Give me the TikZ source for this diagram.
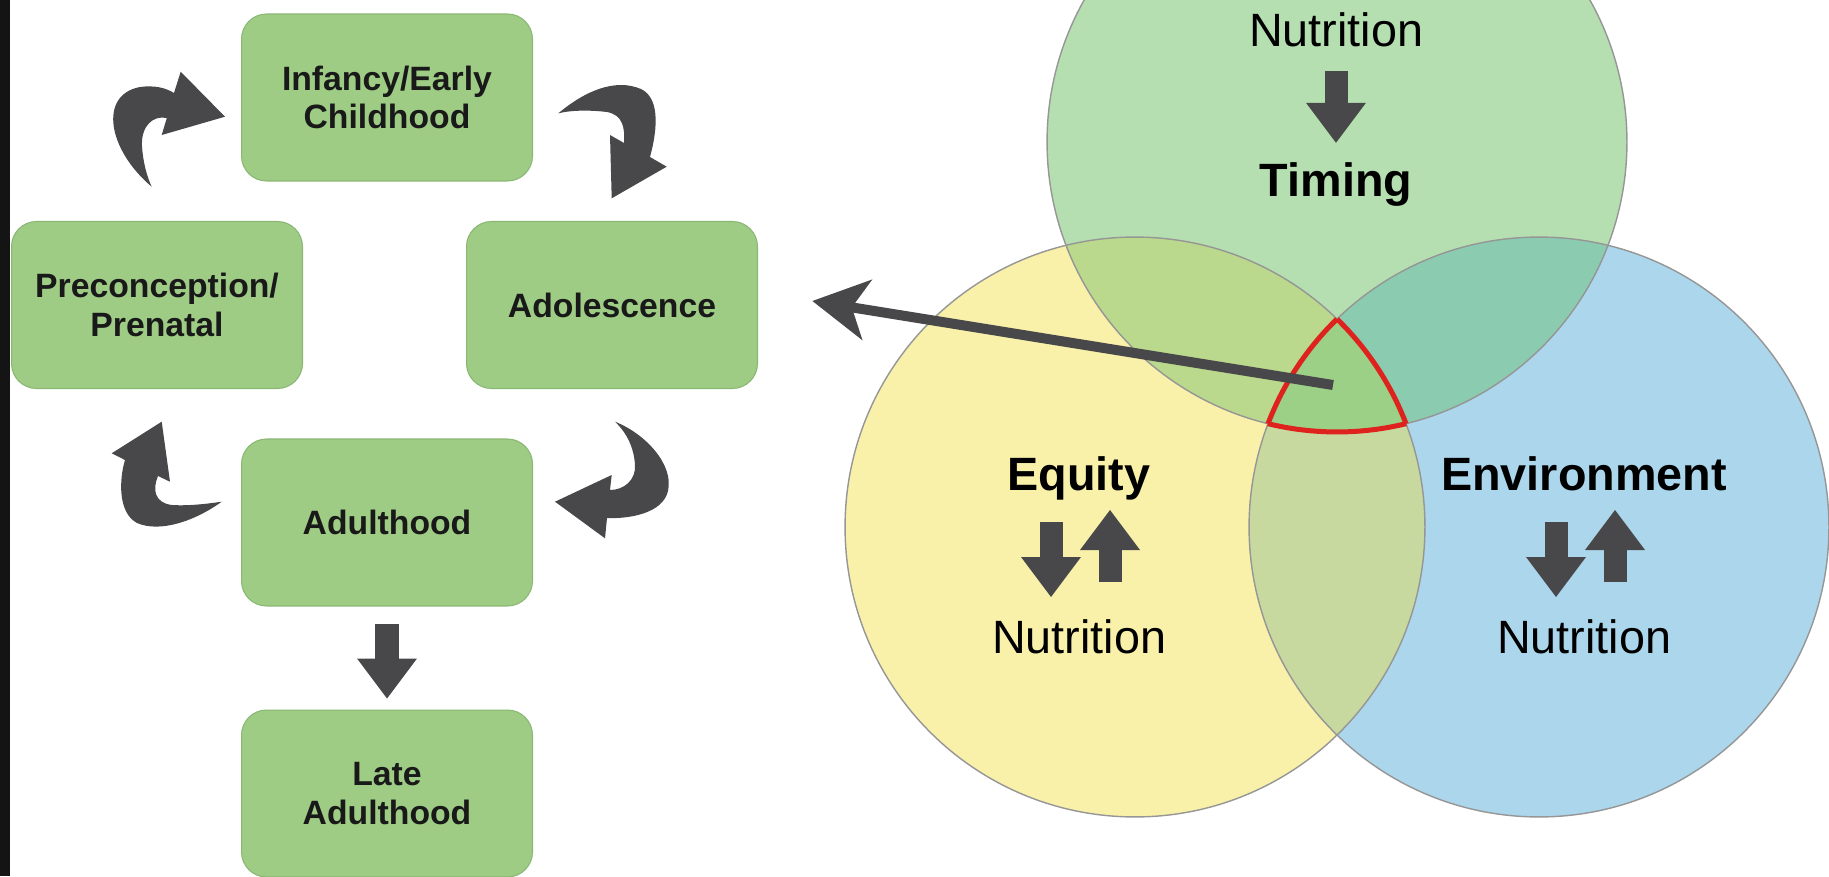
\documentclass[tikz,border=0pt]{standalone}
\usepackage{fontspec}
\setmainfont{Liberation Sans}
\usepackage{xcolor}
\usepackage{tikz}
\usetikzlibrary{arrows.meta, positioning, calc}
\definecolor{stage-green}{RGB}{158, 204, 133}
\definecolor{stage-edge}{RGB}{138, 184, 116}
\definecolor{arrow-gray}{RGB}{72, 72, 74}
\definecolor{venn-green}{RGB}{181, 223, 176}
\definecolor{venn-yellow}{RGB}{249, 241, 170}
\definecolor{venn-blue}{RGB}{171, 214, 236}
\definecolor{venn-gy}{RGB}{186, 217, 140}
\definecolor{venn-gb}{RGB}{139, 203, 175}
\definecolor{venn-yb}{RGB}{199, 217, 158}
\definecolor{venn-core}{RGB}{156, 208, 135}
\definecolor{venn-line}{RGB}{150, 150, 150}
\definecolor{core-red}{RGB}{222, 34, 30}
\newcommand{\vennr}{5.8cm}

\begin{document}
\begin{tikzpicture}[
    x=0.02cm, y=-0.02cm,
    stage/.style={rectangle, rounded corners=0.5cm,
                  fill=stage-green, draw=stage-edge, line width=0.6pt,
                  minimum width=5.82cm, minimum height=3.34cm, align=center,
                  font=\fontsize{19.2}{22}\selectfont\bfseries, text=black!90},
    blk/.style={line width=0.46cm, color=arrow-gray,
                -{Triangle[width=1.2cm, length=0.8cm, line width=0pt]}},
    ptr/.style={line width=0.2cm, color=arrow-gray,
                -{Stealth[length=1.1cm, width=1.2cm, inset=0.3cm]}},
    vlab/.style={anchor=base, inner sep=0pt, font=\fontsize{26.6}{30}\selectfont},
    vhead/.style={vlab, font=\fontsize{26.6}{30}\selectfont\bfseries},
    circ/.style={draw=venn-line, line width=0.8pt},
    redline/.style={draw=core-red, line width=0.1cm}
  ]
    \useasboundingbox (0,0) rectangle (1829,876);
    \fill[white] (0,0) rectangle (1829,876);
    \fill[black!92] (0,0) rectangle (10,876);

    % life course stages
    \node[stage] (infancy) at (387,97.5) {Infancy/Early\\Childhood};
    \node[stage] (precon)  at (157,305)  {Preconception/\\Prenatal};
    \node[stage] (adol)    at (612,305)  {Adolescence};
    \node[stage] (adult)   at (387,522.5) {Adulthood};
    \node[stage, below=2.06cm of adult] (late) {Late\\Adulthood};

    \draw[blk, line width=0.48cm, shorten <=0.34cm, shorten >=0.22cm] (adult) -- (late);

    % curved cycle arrows
    \fill[arrow-gray] (151.7,186.7) .. controls (108,150) and (98,95) .. (140,87)
        .. controls (155,85) and (166,88) .. (174,93) -- (180.7,71.7) -- (225,116.7)
        -- (161.7,135) -- (166.8,118)
        .. controls (153,115) and (141,126) .. (142,146)
        .. controls (143,162) and (147,177) .. (151.7,186.7) -- cycle;
    \fill[arrow-gray] (558.3,113.3) .. controls (585,91) and (615,78) .. (641,89)
        .. controls (662,99) and (656,135) .. (650,157) -- (666.7,166.7) -- (611.7,198.3)
        -- (610,135) -- (624,143)
        .. controls (625,128) and (623,115) .. (607,112)
        .. controls (590,110) and (572,110) .. (558.3,113.3) -- cycle;
    \fill[arrow-gray] (615,421.7) .. controls (646,434) and (674,465) .. (668,491)
        .. controls (663,513) and (630,519) .. (607,518) -- (605,538.3) -- (555,501.7)
        -- (611.7,475) -- (610,490)
        .. controls (624,490) and (636,480) .. (635,465)
        .. controls (634,448) and (627,433) .. (615,421.7) -- cycle;
    \fill[arrow-gray] (221.7,501.7) .. controls (195,521) and (160,533) .. (137,523)
        .. controls (118,513) and (119,480) .. (125,460) -- (111.7,453.3) -- (161.7,421.7)
        -- (170,481.7) -- (158,476)
        .. controls (152,490) and (155,503) .. (172,505)
        .. controls (188,506) and (206,504) .. (221.7,501.7) -- cycle;

    % venn diagram
    \coordinate (cg) at (1337,142);
    \coordinate (cy) at (1135,527);
    \coordinate (cb) at (1539,527);
    \fill[venn-green]  (cg) circle[radius=\vennr];
    \fill[venn-yellow] (cy) circle[radius=\vennr];
    \fill[venn-blue]   (cb) circle[radius=\vennr];
    \begin{scope}
      \clip (cg) circle[radius=\vennr];
      \fill[venn-gy] (cy) circle[radius=\vennr];
      \fill[venn-gb] (cb) circle[radius=\vennr];
    \end{scope}
    \begin{scope}
      \clip (cy) circle[radius=\vennr];
      \fill[venn-yb] (cb) circle[radius=\vennr];
    \end{scope}
    \begin{scope}
      \clip (cg) circle[radius=\vennr];
      \clip (cy) circle[radius=\vennr];
      \fill[venn-core] (cb) circle[radius=\vennr];
    \end{scope}
    \draw[circ] (cg) circle[radius=\vennr];
    \draw[circ] (cy) circle[radius=\vennr];
    \draw[circ] (cb) circle[radius=\vennr];

    % red outline of the shared region
    \begin{scope}
      \clip (cy) circle[radius=\vennr];
      \clip (cb) circle[radius=\vennr];
      \draw[redline] (cg) circle[radius=\vennr];
    \end{scope}
    \begin{scope}
      \clip (cg) circle[radius=\vennr];
      \clip (cb) circle[radius=\vennr];
      \draw[redline] (cy) circle[radius=\vennr];
    \end{scope}
    \begin{scope}
      \clip (cg) circle[radius=\vennr];
      \clip (cy) circle[radius=\vennr];
      \draw[redline] (cb) circle[radius=\vennr];
    \end{scope}

    \node[vlab]  (nut-top) at (1336,46.7) {Nutrition};
    \node[vhead] (timing)  at (1336,196)  {Timing};
    \node[vhead] (equity)  at (1079,490)  {Equity};
    \node[vlab]  (nut-eq)  at (1079,653)  {Nutrition};
    \node[vhead] (environ) at (1584,490)  {Environment};
    \node[vlab]  (nut-env) at (1584,653)  {Nutrition};

    \draw[blk, shorten <=0.47cm, shorten >=0.38cm] (nut-top) -- (timing);
    \draw[blk] (1051,522) -- (1051,597);
    \draw[blk] (1110,582) -- (1110,510);
    \draw[blk] (1556,522) -- (1556,597);
    \draw[blk] (1615,582) -- (1615,510);

    \coordinate (core) at (1333,385);
    \draw[ptr, shorten >=1.1cm] (core) -- (adol.5);
  \end{tikzpicture}
\end{document}
